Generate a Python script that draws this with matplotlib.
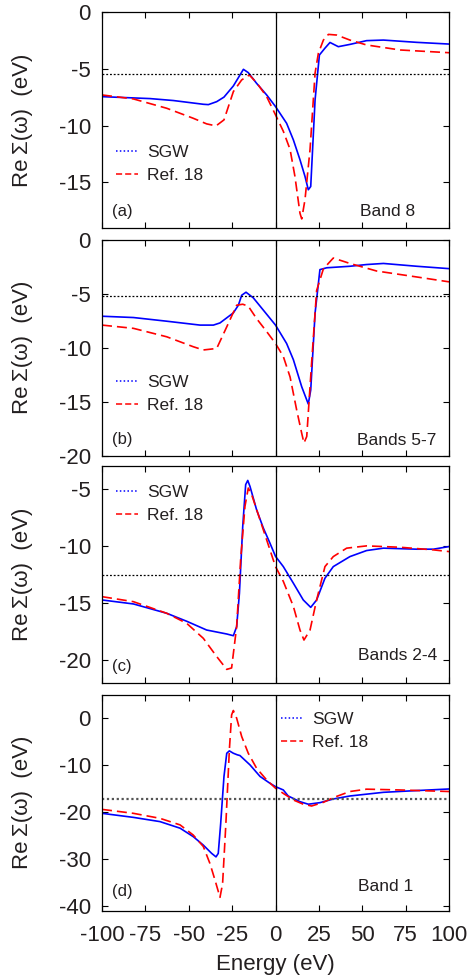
import numpy as np
import matplotlib
matplotlib.use('Agg')
import matplotlib.pyplot as plt
from matplotlib.lines import Line2D

plt.rcParams['font.family'] = ['Liberation Sans', 'DejaVu Sans']
plt.rcParams['axes.unicode_minus'] = False

# Panel (a) - Band 8
e_sgw_a = [-100, -72.3, -58.9, -41.6, -38.7, -33.9, -29.7, -24.3, -20.8, -18.5, -15.7, -10.9, -5.1, 0,
           6.4, 10.3, 14.1, 17.0, 18.9, 20.3, 22.8, 25.3, 28.5, 31.4, 36.2, 42.9, 52.5, 62.2, 81.4, 100]
s_sgw_a = [-7.46, -7.63, -7.8, -8.13, -8.16, -7.9, -7.5, -6.52, -5.64, -5.06, -5.35, -6.29, -7.31, -8.33,
           -9.8, -11.26, -13.0, -14.47, -15.64, -15.35, -7.75, -3.8, -3.2, -2.7, -3.07, -2.87, -2.54, -2.49, -2.69, -2.84]
e_ref_a = [-100, -81.9, -62.7, -47.4, -39.7, -34.3, -29.7, -24.3, -19.5, -15.1, -10.9, -5.1, 0,
           4.5, 8.4, 11.2, 14.1, 15.1, 17.0, 19.9, 22.8, 24.7, 27.6, 30.5, 35.3, 42.9, 52.5, 71.8, 100]
s_ref_a = [-7.31, -7.66, -8.48, -9.36, -9.85, -10.03, -9.5, -7.02, -5.99, -5.56, -6.23, -7.46, -9.06,
           -10.5, -12.1, -14.47, -17.7, -18.2, -16.5, -12.1, -5.4, -3.65, -2.49, -1.99, -2.05, -2.49, -2.92, -3.36, -3.6]

# Panel (b) - Bands 5-7
e_sgw_b = [-100, -81.9, -62.7, -43.5, -35.8, -32.0, -24.3, -21.4, -19.5, -17.0, -12.8, -7.0, 0,
           6.4, 10.3, 15.1, 18.9, 20.3, 22.8, 25.6, 29.5, 42.9, 52.5, 62.2, 81.4, 100]
s_sgw_b = [-7.08, -7.2, -7.54, -7.9, -7.9, -7.7, -6.77, -6.06, -5.14, -4.86, -5.38, -6.52, -7.9,
           -9.6, -11.1, -13.6, -15.2, -13.9, -6.8, -2.77, -2.6, -2.46, -2.3, -2.2, -2.46, -2.68]
e_ref_b = [-100, -81.9, -62.7, -47.4, -41.6, -33.9, -28.1, -22.4, -18.9, -15.7, -10.9, -5.1, 0,
           4.5, 8.4, 12.2, 15.1, 16.4, 18.0, 20.8, 23.7, 27.6, 33.3, 42.9, 58.3, 81.4, 100]
s_ref_b = [-7.9, -8.2, -8.98, -9.9, -10.2, -10.06, -8.06, -6.06, -5.97, -6.15, -7.3, -8.5, -9.6,
           -10.8, -12.7, -15.75, -17.9, -18.8, -18.2, -11.4, -4.7, -2.7, -1.7, -2.2, -2.9, -3.45, -3.9]

# Panel (c) - Bands 2-4
e_sgw_c = [-100, -81.9, -62.7, -51.2, -39.7, -28.1, -24.3, -22.4, -20.8, -18.9, -17.2, -16.0, -14.7,
           -10.9, -7.0, -3.2, 0, 4.5, 10.3, 16.0, 20.3, 23.7, 28.5, 33.3, 42.9, 52.5, 62.2, 81.4, 91.0, 100]
s_sgw_c = [-14.73, -15.08, -15.9, -16.6, -17.37, -17.72, -17.87, -17.08, -14.14, -8.28, -4.6, -4.23, -4.76,
           -6.81, -8.42, -9.74, -10.9, -11.8, -13.26, -14.73, -15.38, -14.73, -12.82, -11.8, -10.92, -10.39,
           -10.18, -10.27, -10.27, -10.04]
e_ref_c = [-100, -81.9, -62.7, -51.2, -41.6, -33.9, -28.1, -25.3, -22.4, -20.1, -17.6, -15.7, -13.7,
           -8.9, -3.2, 0, 4.5, 10.3, 14.1, 16.4, 19.9, 23.7, 28.5, 33.3, 41.0, 52.5, 71.8, 91.0, 100]
s_ref_c = [-14.44, -14.88, -15.9, -16.78, -18.1, -19.7, -20.83, -20.7, -17.08, -11.2, -6.5, -4.9, -5.5,
           -7.7, -10.33, -11.8, -13.1, -15.3, -17.37, -18.25, -17.37, -14.73, -11.8, -10.92, -10.18, -9.98,
           -10.1, -10.33, -10.48]

# Panel (d) - Band 1
e_sgw_d = [-100, -81.9, -66.6, -55.0, -47.4, -41.6, -36.8, -34.3, -33.0, -31.6, -29.7, -28.1, -26.6,
           -24.3, -22.0, -20.5, -14.7, -8.9, -3.2, 0, 4.5, 7.3, 14.1, 18.9, 25.6, 33.3, 42.9, 62.2, 81.4, 100]
s_sgw_d = [-20.24, -21.1, -22.0, -23.4, -25.2, -27.0, -28.76, -29.5, -28.76, -22.4, -12.4, -7.46, -6.96,
           -7.46, -7.8, -7.95, -9.94, -12.4, -13.85, -14.56, -15.27, -16.55, -17.76, -18.3, -17.97, -17.19,
           -16.55, -15.77, -15.4, -15.06]
e_ref_d = [-100, -81.9, -66.6, -55.0, -47.4, -41.6, -37.8, -34.9, -32.0, -30.5, -28.6, -26.6, -25.3,
           -24.3, -22.4, -19.5, -15.7, -10.9, -5.1, 0, 4.5, 10.3, 16.0, 20.8, 27.6, 33.3, 42.9, 52.5, 71.8, 100]
s_ref_d = [-19.4, -20.24, -21.3, -22.7, -24.86, -27.3, -30.9, -34.4, -38.1, -35.2, -22.4, -6.75, 0.7,
           1.63, 0.0, -3.9, -7.46, -10.65, -13.14, -14.9, -16.0, -17.4, -18.3, -18.68, -17.9, -16.9,
           -15.6, -15.1, -15.27, -15.6]

fermi_levels = [-5.5, -5.2, -12.5, -17.2]
panel_tags = ['(a)', '(b)', '(c)', '(d)']
band_names = ['Band 8', 'Bands 5-7', 'Bands 2-4', 'Band 1']
ylims = [(-19, 0), (-20, 0), (-22, -3), (-41, 5)]
yticks = [[0, -5, -10, -15], [0, -5, -10, -15, -20], [-5, -10, -15, -20], [0, -10, -20, -30, -40]]
xticks = [-100, -75, -50, -25, 0, 25, 50, 75, 100]

energies = [(e_sgw_a, e_ref_a), (e_sgw_b, e_ref_b), (e_sgw_c, e_ref_c), (e_sgw_d, e_ref_d)]
sigmas = [(s_sgw_a, s_ref_a), (s_sgw_b, s_ref_b), (s_sgw_c, s_ref_c), (s_sgw_d, s_ref_d)]

text_col = '#231f20'
fig = plt.figure(figsize=(4.76, 9.77), dpi=100)

left, width, height = 0.2143, 0.729, 0.2214
bottoms = [0.7666, 0.5333, 0.3012, 0.0676]
legend_anchor = [(0.04, 0.385), (0.04, 0.375), (0.04, 0.915), (0.515, 0.92)]
band_pos = [(0.902, 0.075), (0.964, 0.071), (0.966, 0.128), (0.896, 0.111)]

for i in range(4):
    ax = fig.add_axes([left, bottoms[i], width, height])
    (e1, e2), (s1, s2) = energies[i], sigmas[i]
    ax.plot(e1, s1, color='#0000ff', lw=1.2)
    ax.plot(e2, s2, color='#ff0000', lw=1.2, dashes=(6, 3))
    if i == 3:
        ax.axhline(fermi_levels[i], color='#555555', lw=1.6, ls=(0, (1, 1.2)))
    else:
        ax.axhline(fermi_levels[i], color='black', lw=0.9, ls=(0, (1.5, 1.5)))
    ax.axvline(0, color='black', lw=0.9)

    ax.set_xlim(-100, 100)
    ax.set_ylim(*ylims[i])
    ax.set_xticks(xticks)
    ax.set_yticks(yticks[i])
    ax.tick_params(direction='in', top=True, right=True, length=4, width=0.8,
                   labelsize=16, colors='black', labelcolor=text_col)
    ax.tick_params(axis='y', pad=8)
    ax.tick_params(axis='x', pad=10)
    for sp in ax.spines.values():
        sp.set_linewidth(0.9)
    if i < 3:
        ax.set_xticklabels([])
    else:
        ax.set_xlabel('Energy (eV)', fontsize=16, color=text_col, labelpad=6)

    ax.set_ylabel('Re\u2009\u03a3(\u03c9)  (eV)', fontsize=16, color=text_col)
    ax.yaxis.set_label_coords(-0.2, 0.5)

    handles = [Line2D([], [], color='#0000ff', lw=1.1, ls=(0, (1, 1.5))),
               Line2D([], [], color='#ff0000', lw=1.1, dashes=(4, 2))]
    leg = ax.legend(handles, ['SGW', 'Ref. 18'], loc='upper left', bbox_to_anchor=legend_anchor[i],
                    frameon=False, fontsize=12.5, handlelength=1.3, handletextpad=0.5,
                    labelspacing=0.45, borderpad=0, borderaxespad=0)
    for t in leg.get_texts():
        t.set_color(text_col)

    ax.text(0.028, 0.075 if i != 3 else 0.089, panel_tags[i], transform=ax.transAxes,
            fontsize=12, color=text_col, ha='left', va='center')
    ax.text(band_pos[i][0], band_pos[i][1], band_names[i], transform=ax.transAxes,
            fontsize=12.5, color=text_col, ha='right', va='center')

fig.savefig('out.png', dpi=100)
